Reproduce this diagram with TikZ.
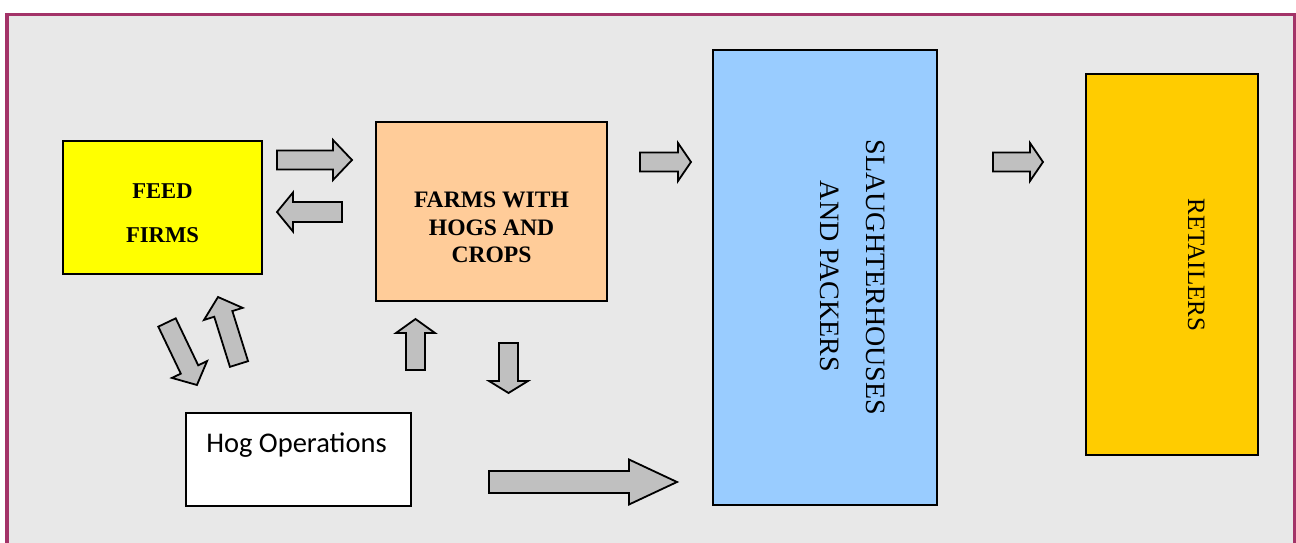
\documentclass[tikz,border=0pt]{standalone}
\usepackage{fontspec}
\setmainfont{Liberation Serif}
\newfontfamily\hogfont{Carlito}
\definecolor{frameC}{RGB}{163,51,104}
\definecolor{bgC}{RGB}{232,232,232}
\definecolor{feedC}{RGB}{255,255,0}
\definecolor{farmC}{RGB}{255,204,153}
\definecolor{slaughC}{RGB}{153,204,255}
\definecolor{retC}{RGB}{255,204,0}
\definecolor{arrC}{RGB}{192,192,192}
\tikzset{
  box/.style={draw=black, line width=1.8pt, inner sep=0pt},
  blockarr/.style={draw=black, fill=arrC, line width=1.8pt, line join=miter},
  lblbold/.style={font=\bfseries\fontsize{22.6}{27}\selectfont, inner sep=0pt, anchor=base},
  lblrot/.style={font=\fontsize{28}{34}\selectfont, inner sep=0pt, anchor=base, rotate=-90},
}
% #1,#2 back centre; #3 angle; #4 length; #5 shaft width; #6 head width; #7 head length
\newcommand\barrow[7]{%
  \draw[blockarr, shift={(#1,#2)}, rotate=#3]
    (0,-#5/2) -- ({#4-#7},-#5/2) -- ({#4-#7},-#6/2) -- (#4,0) --
    ({#4-#7},#6/2) -- ({#4-#7},#5/2) -- (0,#5/2) -- cycle;}
\begin{document}
\begin{tikzpicture}[x=1pt,y=-1pt]
\useasboundingbox (0,0) rectangle (1296,543);
% frame
\fill[bgC] (7,14.5) rectangle (1294.5,560);
\draw[frameC, line width=3.5pt] (7,560) -- (7,14.5) -- (1294.5,14.5) -- (1294.5,560);
% boxes
\node[box, fill=feedC, minimum width=199pt, minimum height=133pt] (feed) at (162.5,207.5) {};
\node[box, fill=farmC, minimum width=231pt, minimum height=179pt] (farm) at (491.5,211.5) {};
\node[box, fill=slaughC, minimum width=224pt, minimum height=455pt] (slaugh) at (825,277.5) {};
\node[box, fill=retC, minimum width=172pt, minimum height=381pt] (ret) at (1172,264.5) {};
\node[box, fill=white, minimum width=225pt, minimum height=93pt] (hog) at (298.5,459.5) {};
% labels
\node[lblbold] (feedA) at (162.5,198) {FEED};
\node[lblbold] (feedB) at (162.5,242) {FIRMS};
\node[lblbold, font=\bfseries\fontsize{23.6}{28}\selectfont] (farmA) at (491.5,207) {FARMS WITH};
\node[lblbold, font=\bfseries\fontsize{23.6}{28}\selectfont] (farmB) at (491.5,235) {HOGS AND};
\node[lblbold, font=\bfseries\fontsize{23.6}{28}\selectfont] (farmC) at (491.5,262) {CROPS};
\node[lblrot] (slA) at (866,277.5) {SLAUGHTERHOUSES};
\node[lblrot] (slB) at (820,276.5) {AND PACKERS};
\node[lblrot, font=\fontsize{25}{30}\selectfont] (retA) at (1188,265) {RETAILERS};
\node[font=\hogfont\fontsize{28.5}{34}\selectfont, inner sep=0pt, anchor=base] (hogA) at (296.5,452) {Hog Operations};
% block arrows
\barrow{277}{160}{0}{75}{19}{40}{19}
\barrow{342}{212}{180}{65}{20}{39}{16}
\barrow{640}{162}{0}{51}{19}{38}{13}
\barrow{993}{162}{0}{50}{19}{38}{13}
\barrow{489}{482}{0}{188}{22}{45}{48}
\barrow{415.5}{370}{90}{51}{19}{39}{14}
\barrow{508.5}{343}{-90}{50}{19}{39}{12}
\barrow{167}{322.5}{-64.4}{69.3}{19.3}{39}{17.2}
\barrow{239}{364}{107.4}{70.2}{19}{40.5}{17.7}
\end{tikzpicture}
\end{document}
